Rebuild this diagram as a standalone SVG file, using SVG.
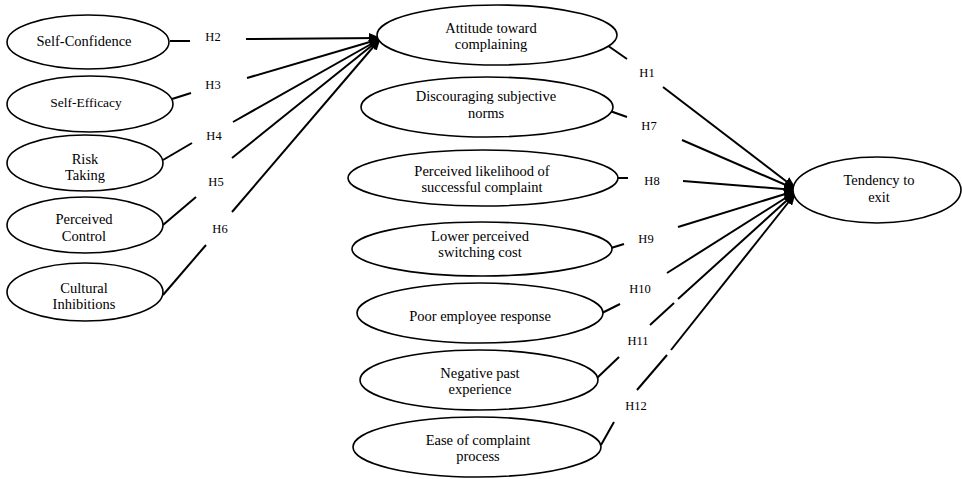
<svg xmlns="http://www.w3.org/2000/svg" width="962" height="479" viewBox="0 0 962 479" font-family="Liberation Serif, Times New Roman, serif">
<style>
.n ellipse{fill:#fff;stroke:#000;stroke-width:1.6}
.n text{font-size:14.5px;fill:#000;text-anchor:middle}
.c line{stroke:#000;stroke-width:2}
.lb{font-size:12.5px;fill:#000;text-anchor:middle}
</style>
<defs>
<marker id="ah" markerUnits="userSpaceOnUse" markerWidth="12" markerHeight="10" refX="11" refY="5" orient="auto">
<path d="M0,0 L12,5 L0,10 z" fill="#000"/>
</marker>
</defs>
<rect width="962" height="479" fill="#fff"/>
<g class="c" id="connectors">
<line x1="170" y1="41" x2="190" y2="41"/><line x1="246" y1="39" x2="380" y2="38" marker-end="url(#ah)"/>
<line x1="172" y1="99" x2="191" y2="93"/><line x1="247" y1="78" x2="380" y2="39" marker-end="url(#ah)"/>
<line x1="163" y1="160" x2="192" y2="143"/><line x1="233" y1="122" x2="380" y2="39" marker-end="url(#ah)"/>
<line x1="163" y1="225" x2="196" y2="197"/><line x1="232" y1="158" x2="380" y2="39" marker-end="url(#ah)"/>
<line x1="163" y1="295" x2="206" y2="245"/><line x1="232" y1="212" x2="380" y2="39" marker-end="url(#ah)"/>
<line x1="604" y1="43" x2="627" y2="59"/><line x1="663" y1="87" x2="795" y2="188" marker-end="url(#ah)"/>
<line x1="610" y1="111" x2="627" y2="117"/><line x1="682" y1="140" x2="795" y2="189" marker-end="url(#ah)"/>
<line x1="617" y1="178" x2="628" y2="178"/><line x1="683" y1="181" x2="795" y2="190" marker-end="url(#ah)"/>
<line x1="611" y1="248" x2="624" y2="244"/><line x1="678" y1="227" x2="795" y2="191" marker-end="url(#ah)"/>
<line x1="602" y1="313" x2="620" y2="304"/><line x1="667" y1="273" x2="795" y2="192" marker-end="url(#ah)"/>
<line x1="597" y1="378" x2="619" y2="357"/><line x1="650" y1="325" x2="674" y2="303"/><line x1="678" y1="299" x2="795" y2="193" marker-end="url(#ah)"/>
<line x1="601" y1="445" x2="614" y2="422"/><line x1="637" y1="390" x2="667" y2="355"/><line x1="671" y1="350" x2="795" y2="194" marker-end="url(#ah)"/>
</g>
<g id="labels">
<text class="lb" x="213" y="41">H2</text>
<text class="lb" x="213" y="89">H3</text>
<text class="lb" x="214" y="140">H4</text>
<text class="lb" x="216" y="186">H5</text>
<text class="lb" x="220" y="233">H6</text>
<text class="lb" x="647" y="77">H1</text>
<text class="lb" x="649" y="130">H7</text>
<text class="lb" x="652" y="185">H8</text>
<text class="lb" x="646" y="243">H9</text>
<text class="lb" x="640" y="293">H10</text>
<text class="lb" x="638" y="345">H11</text>
<text class="lb" x="636" y="410">H12</text>
</g>
<g class="n" id="self-confidence"><ellipse cx="88" cy="42" rx="81" ry="27"/><text x="84" y="46">Self-Confidence</text></g>
<g class="n" id="self-efficacy"><ellipse cx="90" cy="104" rx="83" ry="28"/><text x="86" y="107" style="font-size:13.5px">Self-Efficacy</text></g>
<g class="n" id="risk-taking"><ellipse cx="85" cy="163" rx="78" ry="28"/><text x="85" y="164">Risk</text><text x="85" y="180">Taking</text></g>
<g class="n" id="perceived-control"><ellipse cx="85" cy="225" rx="78" ry="28"/><text x="84" y="224">Perceived</text><text x="84" y="241">Control</text></g>
<g class="n" id="cultural-inhibitions"><ellipse cx="85" cy="292" rx="78" ry="29"/><text x="84" y="293">Cultural</text><text x="84" y="309">Inhibitions</text></g>
<g class="n" id="attitude"><ellipse cx="497" cy="35" rx="120" ry="30"/><text x="491" y="33">Attitude toward</text><text x="491" y="49">complaining</text></g>
<g class="n" id="discouraging"><ellipse cx="487" cy="107" rx="126" ry="30"/><text x="486" y="101">Discouraging subjective</text><text x="486" y="118">norms</text></g>
<g class="n" id="likelihood"><ellipse cx="483" cy="178" rx="135" ry="28"/><text x="482" y="176">Perceived likelihood of</text><text x="482" y="192">successful complaint</text></g>
<g class="n" id="switching-cost"><ellipse cx="482" cy="249" rx="130" ry="27"/><text x="480" y="241">Lower perceived</text><text x="480" y="257">switching cost</text></g>
<g class="n" id="poor-employee"><ellipse cx="480" cy="313" rx="123" ry="30"/><text x="480" y="321">Poor employee response</text></g>
<g class="n" id="negative-past"><ellipse cx="479" cy="380" rx="119" ry="30"/><text x="480" y="378">Negative past</text><text x="480" y="394">experience</text></g>
<g class="n" id="ease"><ellipse cx="477" cy="447" rx="124" ry="30"/><text x="478" y="445">Ease of complaint</text><text x="478" y="461">process</text></g>
<g class="n" id="tendency"><ellipse cx="877" cy="190" rx="84" ry="33"/><text x="879" y="185">Tendency to</text><text x="879" y="202">exit</text></g>
</svg>
